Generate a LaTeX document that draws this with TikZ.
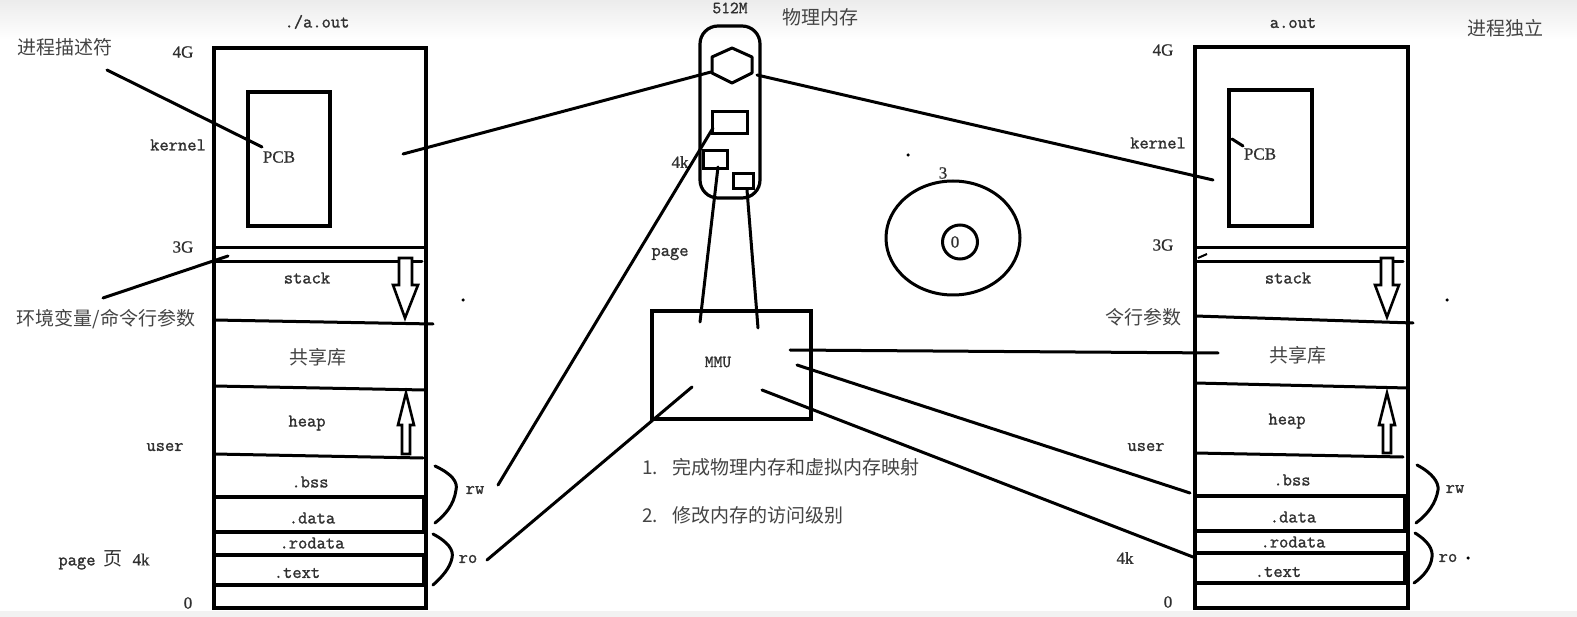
\documentclass[tikz,border=0pt]{standalone}
\usepackage{fontspec}
\setmainfont{Liberation Serif}
\newfontfamily\cjk{Noto Sans CJK SC}
\newfontfamily\monof{Latin Modern Mono}[FakeBold=1.3]
\newfontfamily\serf{Liberation Serif}[FakeBold=0.8]
\usetikzlibrary{shapes.geometric}
\definecolor{txt}{HTML}{303030}
\definecolor{cjkc}{HTML}{444444}
\begin{document}
\begin{tikzpicture}[x=1pt,y=-1pt,
  ln/.style={line width=3pt, line cap=round},
  bx/.style={draw, line width=3.2pt, inner sep=0pt},
  arr/.style={draw, line width=2.6pt, fill=white, line join=miter},
  mono/.style={font=\fontsize{18}{20}\selectfont\monof, text=txt, inner sep=0pt},
  ser/.style={font=\fontsize{17}{20}\selectfont\serf, text=txt, inner sep=0pt},
  cj/.style={font=\fontsize{19}{22}\selectfont\cjk, text=cjkc, inner sep=0pt},
  dot/.style={circle, fill=black, inner sep=0pt, minimum size=3.5pt}]
\useasboundingbox (0,0) rectangle (1577,617);
\fill[white] (0,0) rectangle (1577,617);
\shade[top color=gray!15, bottom color=white] (0,0) rectangle (1577,40);
\fill[gray!10] (0,611) rectangle (1577,617);

% ---------- left block ----------
\node[bx, minimum width=212pt, minimum height=560pt] (L) at (320,328) {};
\node[bx, minimum width=82pt, minimum height=134pt] (Lpcb) at (289,159) {};
\node[ser] (LpcbT) at (279,157) {PCB};
\draw[ln] (214,248) -- (426,248);
\draw[ln] (214,262) -- (422,262);
\draw[ln] (214,320) -- (433,324);
\draw[ln] (214,386) -- (425,390);
\draw[ln] (214,454) -- (423,458);
\draw[bx] (214,497) rectangle (424,532);
\draw[bx] (214,555) rectangle (424,585);
\draw[arr] (399,258) -- (412,258) -- (412,285) -- (418,285) -- (405,318) -- (393,285) -- (399,285) -- cycle;
\draw[arr] (406,393) -- (414,425) -- (410,425) -- (410,454) -- (402,454) -- (402,425) -- (398,425) -- cycle;

\node[mono] (Lout) at (317,22) {./a.out};
\node[ser] (L4G) at (183,52) {4G};
\node[mono] (Lkern) at (178,145) {kernel};
\node[ser] (L3G) at (183,247) {3G};
\node[mono] (Lstack) at (307,278) {stack};
\node[cj] (Lshared) at (318,357) {共享库};
\node[mono] (Lheap) at (307,423) {heap};
\node[mono] (Luser) at (165,447) {user};
\node[mono] (Lbss) at (310,482) {.bss};
\node[mono] (Ldata) at (312,518) {.data};
\node[mono] (Lrodata) at (312,543) {.rodata};
\node[mono] (Ltext) at (297,573) {.text};
\node[inner sep=0pt, text=txt] (Lpage) at (104,560) {{\fontsize{18}{20}\selectfont\monof page}\hspace{8pt}{\fontsize{19}{22}\selectfont\cjk 页}\hspace{10pt}{\fontsize{17}{20}\selectfont\serf 4k}};
\node[ser] (L0) at (188,603) {0};
\node[cj] (desc) at (65,47) {进程描述符};
\node[cj] (env) at (106,319) {环境变量/命令行参数};
\coordinate (descS) at (107,70);
\coordinate (descE) at (262,147);
\draw[ln] (descS) -- (descE);
\coordinate (envS) at (103,298);
\coordinate (envE) at (228,256);
\draw[ln] (envS) -- (envE);

% braces left
\draw[ln] (435,466) .. controls (452,474) and (458,482) .. (456,490) .. controls (454,505) and (445,515) .. (435,523);
\draw[ln] (433,534) .. controls (448,542) and (454,550) .. (452,558) .. controls (450,568) and (442,577) .. (433,585);
\node[mono] (Lrw) at (475,490) {rw};
\node[mono] (Lro) at (468,559) {ro};

% ---------- physical memory ----------
\node[bx, rounded corners=18pt, minimum width=60pt, minimum height=172pt] (PM) at (730,112) {};
\draw[line width=3pt, line join=round] (732,48) -- (752,57) -- (752,73) -- (732,83) -- (712,73) -- (712,57) -- cycle;
\coordinate (hexL) at (711,72);
\coordinate (hexR) at (757,75);
\node[bx, line width=3pt, minimum width=35pt, minimum height=22pt] (r1) at (729.5,123) {};
\node[bx, line width=3pt, minimum width=24pt, minimum height=18pt] (r2) at (715,160) {};
\node[bx, line width=3pt, minimum width=20pt, minimum height=15pt] (r3) at (743,181.5) {};
\node[font=\fontsize{17}{20}\selectfont\monof, text=txt, inner sep=0pt] (m512) at (730,8) {512M};
\node[cj] (phys) at (820,17) {物理内存};
\node[ser] (pm4k) at (680,162) {4k};
\node[mono] (pmpage) at (670,254) {page};

% ---------- MMU ----------
\node[bx, minimum width=159pt, minimum height=108pt] (MMU) at (731.5,365) {};
\node[font=\fontsize{17}{19}\selectfont\monof, text=txt, inner sep=0pt] (MMUt) at (718,362) {MMU};
\node[cj, anchor=west] (note1) at (642,467) {1.\hspace{14pt}完成物理内存和虚拟内存映射};
\node[cj, anchor=west] (note2) at (642,515) {2.\hspace{14pt}修改内存的访问级别};

% ---------- rings ----------
\node[draw, ellipse, line width=3pt, minimum width=134pt, minimum height=114pt] (E3) at (953,238) {};
\node[draw, ellipse, line width=3pt, minimum width=35pt, minimum height=34pt, inner sep=0pt] (E0) at (960,242) {};
\node[ser] (E0t) at (955,242) {0};
\node[ser] (E3t) at (943,173) {3};
\node[dot] (d1) at (908,155) {};
\node[dot] (d2) at (463,300) {};
\node[dot] (d3) at (1447,300) {};

% ---------- right block ----------
\node[bx, minimum width=213pt, minimum height=561pt] (R) at (1301.5,327.5) {};
\node[bx, minimum width=83pt, minimum height=136pt] (Rpcb) at (1270.5,158) {};
\node[ser] (RpcbT) at (1260,154) {PCB};
\draw[ln] (1195,248) -- (1408,248);
\draw[ln] (1195,262) -- (1403,262);
\draw[ln] (1195,316) -- (1413,323);
\draw[ln] (1195,383) -- (1408,388);
\draw[ln] (1195,453) -- (1403,457);
\draw[bx] (1195,496) rectangle (1405,531);
\draw[bx] (1195,553) rectangle (1405,583);
\draw[arr] (1381,258) -- (1393,258) -- (1393,285) -- (1399,285) -- (1387,317) -- (1375,285) -- (1381,285) -- cycle;
\draw[arr] (1387,393) -- (1395,425) -- (1391,425) -- (1391,453) -- (1383,453) -- (1383,425) -- (1379,425) -- cycle;
\draw[ln] (1232,139) -- (1243,146);
\draw[line width=2pt] (1207,254) -- (1198,258);

\node[mono] (Rout) at (1293,23) {a.out};
\node[ser] (R4G) at (1163,50) {4G};
\node[mono] (Rkern) at (1158,143) {kernel};
\node[ser] (R3G) at (1163,245) {3G};
\node[mono] (Rstack) at (1288,278) {stack};
\node[cj] (Rargs) at (1143,317) {令行参数};
\node[cj] (Rshared) at (1298,355) {共享库};
\node[mono] (Rheap) at (1287,421) {heap};
\node[mono] (Ruser) at (1146,447) {user};
\node[mono] (Rbss) at (1292,480) {.bss};
\node[mono] (Rdata) at (1293,517) {.data};
\node[mono] (Rrodata) at (1293,542) {.rodata};
\node[mono] (Rtext) at (1278,572) {.text};
\node[ser] (R4k) at (1125,558) {4k};
\node[ser] (R0) at (1168,602) {0};
\node[cj] (indep) at (1505,28) {进程独立};
\draw[ln] (1417,465) .. controls (1432,473) and (1439,482) .. (1438,490) .. controls (1436,503) and (1428,514) .. (1416,523);
\draw[ln] (1415,533) .. controls (1428,541) and (1433,549) .. (1432,557) .. controls (1431,567) and (1424,576) .. (1414,583);
\node[mono] (Rrw) at (1455,489) {rw};
\node[mono] (Rro) at (1448,558) {ro};
\node[dot] (d4) at (1468,558) {};

% ---------- connectors ----------
\coordinate (rwS) at (498,485);
\coordinate (r1c) at (713,128);
\draw[ln] (rwS) -- (r1c);
\coordinate (roS) at (487,560);
\coordinate (mmuA) at (692,387);
\draw[ln] (roS) -- (mmuA);
\coordinate (LkIn) at (403,154);
\draw[ln] (hexL) -- (LkIn);
\coordinate (RkIn) at (1213,180);
\draw[ln] (hexR) -- (RkIn);
\coordinate (r2b) at (718,167);
\coordinate (mmuB) at (700,322);
\draw[ln] (r2b) -- (mmuB);
\coordinate (r3b) at (747,190);
\coordinate (mmuC) at (758,328);
\draw[ln] (r3b) -- (mmuC);
\coordinate (mmuD) at (790,350);
\coordinate (RshIn) at (1218,353);
\draw[ln] (mmuD) -- (RshIn);
\coordinate (mmuE) at (797,365);
\coordinate (RdataIn) at (1190,493);
\draw[ln] (mmuE) -- (RdataIn);
\coordinate (mmuF) at (762,390);
\coordinate (RtextIn) at (1193,557);
\draw[ln] (mmuF) -- (RtextIn);
\end{tikzpicture}
\end{document}
